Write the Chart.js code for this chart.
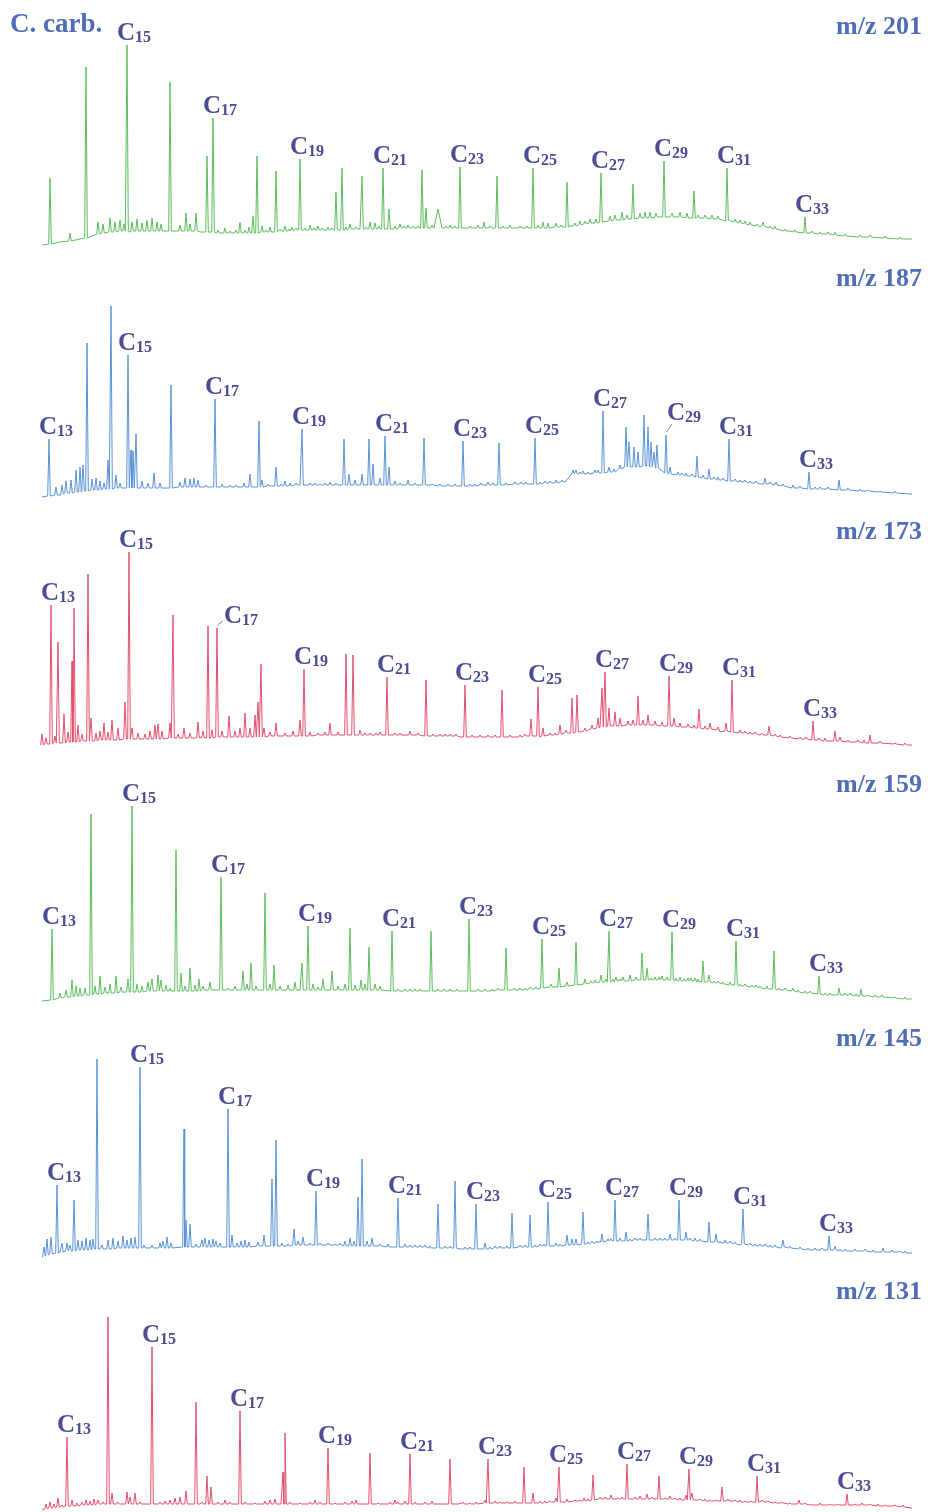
<!DOCTYPE html>
<html>
<head>
<meta charset="utf-8">
<script src="https://cdn.jsdelivr.net/npm/chart.js@4.4.1/dist/chart.umd.min.js"></script>
<style>
  html, body { margin: 0; padding: 0; background: #ffffff; }
  #stack { position: relative; width: 928px; height: 1512px; overflow: hidden; }
  #stack canvas { position: absolute; left: 0; }
</style>
</head>
<body>
<div id="stack"></div>
<script>
// ---- Sample and ion traces ----
const sampleName = 'C. carb.';
const ionTitles = ['m/z 201', 'm/z 187', 'm/z 173', 'm/z 159', 'm/z 145', 'm/z 131'];

// Baseline levels: [retention, intensity]
// Peaks: [retention, foot level, apex intensity, (optional half width)]
// Minor peaks: small baseline features, same layout as peaks
// Labels: [carbon number of n-alkyl homologue, retention of its peak]

const mz201Base = [[42,7],[60,10],[80,13],[95,17],[130,20],[170,21],[200,20],[230,19],[300,22],[360,23],[400,24],[460,24],[530,24],[570,26],[600,31],[640,34],[670,35],[700,34],[725,31],[760,25],[790,21],[830,18],[870,15],[912,13]];
const mz201Peaks = [[50,8,74],[70,11,19],[86,14,185],[98,18,30],[103,19,28],[110,20,34],[115,20,30],[120,21,32],[124,21,28],[127,21,207],[132,21,30],[137,21,33],[142,21,29],[147,21,32],[152,21,34],[157,21,30],[161,21,28],[170,21,170],[180,21,27],[186,21,39],[190,21,28],[196,21,39],[207,20,96],[213,20,134],[225,19,24],[240,19,30],[249,19,25],[253,19,36],[257,19,96],[262,20,26],[270,20,25],[276,20,81],[285,21,26],[292,21,25],[300,22,93],[310,22,27],[318,22,26],[328,22,25],[336,22,60],[342,22,84],[350,23,28],[362,23,76],[370,23,30],[375,23,29],[383,23,84],[389,23,43],[400,24,28],[408,24,27],[422,24,82],[426,24,44],[438,24,43,4],[450,24,27],[460,24,85],[484,24,30],[497,24,76],[510,24,27],[533,24,84],[543,24,30],[548,24,29],[556,25,29],[567,25,70],[580,27,31],[590,29,33],[601,30,79],[610,31,36],[615,32,37],[622,32,40],[633,33,68],[640,34,39],[645,34,40],[650,34,40],[656,35,39],[664,35,91],[672,35,39],[680,35,40],[687,34,39],[694,34,61],[705,34,37],[712,33,37],[718,33,36],[727,32,84],[740,29,32],[750,27,30],[763,26,30],[775,23,26],[805,19,35],[820,18,20],[835,17,20],[860,15,17]];
const mz201Minor = [[218,19,22],[230,19,21],[236,19,22],[245,19,22],[266,20,22],[280,21,23],[289,21,23],[296,22,24],[305,22,24],[314,22,24],[322,22,24],[332,22,24],[346,22,25],[356,23,25],[366,23,25],[379,23,26],[395,23,26],[404,24,26],[413,24,26],[418,24,26],[432,24,27],[446,24,26],[455,24,26],[470,24,26],[478,24,27],[490,24,26],[503,24,26],[520,24,26],[527,24,26],[538,24,27],[561,25,27],[575,26,29],[585,28,31],[596,29,33],[627,33,37],[698,34,37],[735,30,33],[745,28,31],[757,26,28],[770,24,26],[785,21,23],[795,20,22],[812,19,21],[828,18,20],[845,16,18],[870,15,17],[885,14,16],[900,13,15]];
const mz201Labels = [[15,127],[17,213],[19,300],[21,383],[23,460],[25,533],[27,601],[29,664],[31,727],[33,805]];

const mz187Base = [[42,8],[60,10],[80,13],[100,15],[150,17],[200,18],[300,20],[400,20],[460,19],[530,21],[565,23],[572,32],[590,31],[620,35],[650,36],[680,30],[720,25],[760,21],[800,16],[850,15],[880,13],[912,11]];
const mz187Peaks = [[49,9,66],[56,10,18],[62,11,20],[66,12,24],[71,12,25],[76,13,35],[80,13,38],[83,14,40],[87,14,162],[92,15,26],[96,15,27],[100,15,24],[104,16,22],[108,16,45],[111,16,199],[116,17,30],[120,17,22],[128,17,150],[131,17,55],[133,17,54],[136,17,71],[142,17,24],[148,17,22],[154,17,32],[160,17,22],[171,17,120],[180,18,23],[185,18,27],[190,18,26],[194,18,27],[198,18,25],[215,18,106],[230,18,20],[244,18,22],[250,18,31],[259,18,84],[262,18,25],[276,19,38],[285,19,24],[290,19,22],[302,20,76],[310,20,22],[325,20,22],[330,20,23],[344,20,66],[349,20,31],[355,20,25],[362,20,31],[369,20,66],[373,20,41],[380,20,27],[385,20,69],[389,20,38],[395,20,24],[408,20,25],[424,20,67],[440,19,21],[463,19,64],[475,19,21],[488,20,23],[499,20,62],[515,21,23],[521,21,23],[535,21,67],[545,22,24],[556,22,25],[573,31,35],[576,31,35],[580,31,33],[588,31,33],[595,32,35],[603,32,94],[609,33,38],[614,33,36],[620,36,40],[626,38,78],[629,38,63],[634,38,58],[638,38,53],[644,39,90],[648,39,78],[651,38,63],[654,38,53],[657,37,60],[666,32,70],[670,31,38],[678,30,33],[686,29,32],[697,28,49],[709,26,36],[718,25,28],[729,24,66],[740,23,25],[750,22,24],[765,21,27],[776,20,23],[793,17,20],[809,16,33],[820,16,18],[839,15,25],[860,14,16]];
const mz187Minor = [[206,18,20],[222,18,21],[236,18,20],[268,19,21],[281,19,21],[296,20,22],[315,20,22],[320,20,21],[336,20,22],[400,20,22],[415,20,22],[432,20,21],[448,19,21],[455,19,21],[470,19,21],[481,20,22],[493,20,22],[506,20,22],[526,21,23],[540,21,23],[550,22,24],[562,23,25],[583,31,34],[598,32,35],[682,30,32],[692,29,31],[703,27,30],[714,26,28],[723,25,27],[735,24,26],[745,23,25],[756,22,24],[770,21,23],[783,19,21],[800,17,19],[815,16,18],[828,16,18],[848,15,17],[868,14,15],[880,13,14],[895,12,14]];
const mz187Labels = [[13,49],[15,128],[17,215],[19,302],[21,385],[23,463],[25,535],[27,603],[29,666],[31,729],[33,809]];

const mz173Base = [[42,13],[50,14],[60,15],[100,18],[200,21],[300,23],[400,23],[460,21],[540,21],[580,26],[600,31],[640,33],[680,31],[720,26],[760,23],[800,18],[850,16],[912,13]];
const mz173Peaks = [[42,13,24],[46,14,20],[51,14,153],[55,15,22],[58,15,116],[64,15,44],[68,16,26],[72,16,97],[74,16,150],[78,16,33],[82,17,24],[88,17,184],[91,17,40],[96,17,25],[100,18,27],[104,18,35],[108,18,26],[112,18,38],[118,18,30],[125,19,56],[129,19,206],[132,19,30],[138,19,25],[145,19,24],[150,19,27],[155,19,33],[158,19,34],[162,19,27],[170,20,35],[173,20,143],[178,20,24],[184,20,30],[190,20,25],[198,20,36],[203,20,27],[208,20,132],[212,20,28],[217,21,130],[222,21,27],[229,21,42],[235,21,27],[240,21,30],[245,21,45],[250,21,30],[255,21,43],[258,21,56],[261,21,94],[264,21,30],[270,22,26],[276,22,35],[285,22,25],[293,22,27],[300,22,38],[304,22,89],[310,22,26],[318,23,25],[325,23,26],[330,23,35],[338,23,26],[346,23,104],[353,23,103],[360,23,28],[370,23,25],[387,23,81],[395,23,25],[410,23,27],[426,22,78],[440,22,24],[450,22,24],[465,21,73],[480,21,23],[502,21,68],[520,21,23],[531,22,39],[538,22,71],[543,22,30],[560,24,33],[566,25,28],[572,25,60],[577,26,63],[585,27,30],[592,29,33],[598,30,40],[602,31,70],[605,31,86],[609,32,50],[615,32,46],[620,32,40],[628,33,37],[633,33,38],[638,33,62],[643,33,38],[648,33,43],[655,33,37],[662,32,36],[669,32,82],[674,32,40],[680,31,35],[688,31,34],[699,30,49],[710,29,35],[718,28,31],[726,27,35],[732,26,78],[745,25,27],[755,24,26],[769,23,32],[780,21,23],[800,19,21],[813,18,37],[825,17,20],[835,17,27],[840,17,21],[870,15,23],[880,15,17]];
const mz173Minor = [[365,23,25],[376,23,25],[380,23,26],[400,23,25],[418,23,25],[433,22,24],[445,22,24],[456,22,24],[472,21,23],[488,21,23],[495,21,23],[510,21,23],[525,22,24],[550,23,25],[555,23,25],[694,30,33],[705,29,32],[740,25,28],[750,24,26],[762,23,25],[775,22,24],[790,20,22],[806,19,21],[819,18,20],[848,16,18],[858,16,18],[864,15,18],[895,14,15],[905,13,15]];
const mz173Labels = [[13,51],[15,129],[17,217],[19,304],[21,387],[23,465],[25,538],[27,605],[29,669],[31,732],[33,813]];

const mz159Base = [[42,11],[60,14],[100,19],[150,21],[200,22],[300,22],[400,21],[460,21],[530,22],[560,27],[600,31],[650,32],[700,31],[740,26],[780,22],[820,17],[860,16],[912,13]];
const mz159Peaks = [[52,12,83],[60,14,19],[66,15,22],[72,15,32],[76,16,26],[80,16,24],[85,17,24],[91,17,198],[95,18,26],[100,18,36],[105,19,25],[110,19,28],[116,19,36],[121,20,25],[128,20,33],[132,20,206],[137,20,28],[142,20,26],[148,21,30],[152,21,33],[158,21,37],[161,21,32],[166,21,27],[170,21,24],[176,21,162],[181,21,39],[185,21,26],[190,21,44],[195,21,27],[199,21,33],[203,22,26],[210,22,30],[221,22,135],[228,22,24],[235,22,26],[243,22,41],[247,22,28],[251,22,49],[256,22,26],[265,22,119],[270,22,28],[274,22,47],[280,22,26],[288,22,27],[295,22,30],[302,22,49],[308,22,86],[313,22,28],[318,22,25],[323,22,33],[332,22,41],[338,22,26],[345,22,28],[350,22,84],[355,22,27],[361,22,32],[365,22,28],[369,22,65],[375,22,28],[380,22,26],[392,21,81],[405,21,23],[415,21,23],[431,21,81],[450,21,23],[469,21,93],[485,21,23],[506,22,64],[520,22,24],[530,23,25],[542,24,73],[551,25,28],[559,25,44],[567,26,30],[576,27,70],[585,28,33],[595,29,32],[601,30,37],[609,30,81],[616,31,35],[623,31,35],[630,31,37],[636,32,35],[642,32,59],[647,32,44],[655,32,35],[662,32,36],[667,32,35],[672,32,80],[680,31,35],[688,31,34],[695,31,34],[703,30,51],[709,30,37],[718,29,31],[730,27,30],[736,27,71],[745,26,28],[760,24,26],[767,23,26],[774,23,61],[785,22,24],[793,21,24],[805,19,21],[819,18,36],[830,17,19],[839,17,24],[850,17,19],[861,16,23],[875,15,17]];
const mz159Minor = [[398,21,23],[410,21,23],[420,21,23],[438,21,23],[444,21,23],[457,21,23],[478,21,23],[492,21,23],[498,22,24],[514,22,24],[525,22,24],[536,23,25],[591,29,31],[606,30,33],[613,30,33],[620,31,33],[651,32,34],[659,32,35],[676,31,34],[684,31,33],[691,31,34],[698,30,33],[714,29,31],[723,28,30],[740,26,28],[752,25,27],[756,25,27],[779,22,24],[798,20,22],[810,19,21],[825,17,19],[845,17,19],[856,16,18],[868,16,17],[882,15,17],[895,14,15],[905,13,15]];
const mz159Labels = [[13,52],[15,132],[17,221],[19,308],[21,392],[23,469],[25,542],[27,609],[29,672],[31,736],[33,819]];

const mz145Base = [[42,8],[60,13],[100,16],[200,18],[300,20],[400,18],[460,16],[520,18],[560,20],[600,24],[650,25],[700,24],[740,20],[780,17],[820,15],[860,14],[912,12]];
const mz145Peaks = [[44,9,18],[47,10,26],[51,11,28],[57,12,80],[62,13,22],[67,14,22],[70,14,20],[74,14,65],[78,15,25],[82,15,24],[86,15,27],[90,15,25],[93,16,26],[97,16,206],[102,16,20],[108,16,25],[113,16,27],[118,17,24],[123,17,29],[127,17,25],[131,17,27],[135,17,28],[140,17,198],[144,17,20],[152,17,20],[160,17,22],[163,17,24],[167,17,28],[171,17,22],[184,18,136],[186,18,45],[190,18,41],[196,18,21],[202,18,25],[205,18,27],[209,18,25],[213,18,26],[216,18,24],[220,18,22],[228,18,156],[232,18,30],[237,18,22],[241,18,24],[245,18,25],[249,18,23],[258,19,23],[264,19,30],[272,19,86],[276,19,125],[282,19,22],[288,19,21],[294,20,36],[298,20,24],[303,20,28],[310,20,22],[316,20,74],[320,20,22],[328,20,22],[335,20,21],[340,20,22],[345,19,24],[350,19,27],[354,19,24],[358,19,68],[362,19,106],[367,19,24],[372,19,27],[380,19,21],[388,18,21],[398,18,67],[405,18,21],[415,18,20],[425,18,20],[438,17,61],[445,17,19],[455,17,84],[465,16,18],[476,16,61],[485,16,22],[495,17,19],[512,17,52],[520,18,20],[530,18,50],[540,19,21],[548,19,63],[556,19,22],[567,20,30],[572,20,26],[576,20,26],[583,21,53],[592,22,24],[602,23,31],[608,24,26],[615,24,65],[620,24,27],[626,24,33],[635,25,27],[648,25,51],[660,25,27],[670,25,31],[679,25,65],[686,25,33],[695,24,27],[709,23,43],[716,23,31],[725,22,25],[735,21,23],[743,21,56],[755,19,21],[765,19,21],[775,18,20],[783,18,25],[800,16,18],[815,15,17],[829,15,29],[835,15,19],[845,14,16],[865,14,16],[883,13,17],[900,13,14]];
const mz145Minor = [[410,18,20],[420,18,20],[430,17,19],[450,17,19],[470,16,18],[490,16,18],[500,17,19],[507,17,19],[525,18,20],[535,18,20],[544,19,21],[560,19,21],[588,21,23],[597,22,24],[611,24,26],[630,24,26],[640,25,27],[655,25,27],[665,25,27],[675,25,27],[690,25,27],[700,24,26],[720,22,24],[730,22,24],[750,20,22],[760,19,21],[770,18,20],[790,17,19],[808,15,17],[822,15,17],[840,14,16],[855,14,16],[873,13,15],[892,13,15],[905,12,14]];
const mz145Labels = [[13,57],[15,140],[17,228],[19,316],[21,398],[23,476],[25,548],[27,615],[29,679],[31,743],[33,829]];

const mz131Base = [[42,2],[60,5],[100,8],[200,8],[300,8],[400,8],[460,8],[520,9],[560,10],[600,13],[650,13],[700,12],[760,10],[820,7],[870,7],[912,4]];
const mz131Peaks = [[46,3,8],[50,4,10],[54,4,8],[58,5,14],[62,5,7],[67,6,75],[72,6,12],[77,6,9],[82,7,10],[86,7,12],[90,7,11],[94,7,13],[98,8,12],[103,8,10],[108,8,195],[112,8,19],[118,8,10],[127,8,20],[130,8,15],[135,8,19],[140,8,10],[152,8,165],[160,8,10],[165,8,11],[170,8,12],[175,8,14],[180,8,15],[186,8,21],[196,8,110],[202,8,10],[207,8,36],[211,8,25],[218,8,10],[225,8,12],[230,8,10],[240,8,101],[245,8,10],[255,8,9],[265,8,11],[270,8,12],[275,8,13],[283,8,40,2],[285,8,79],[290,8,10],[300,8,9],[310,8,10],[315,8,12],[320,8,10],[328,8,64],[335,8,9],[345,8,10],[352,8,11],[356,8,12],[370,8,59],[378,8,9],[390,8,10],[395,8,12],[398,8,10],[405,8,11],[410,8,58],[415,8,10],[425,8,10],[432,8,11],[450,8,53],[460,8,9],[470,8,9],[485,9,12],[488,9,53],[500,9,10],[524,9,45],[533,9,19],[545,9,11],[556,10,14],[559,10,45],[567,10,13],[575,11,12],[584,11,14],[593,12,37],[600,13,15],[605,13,15],[611,13,17],[618,13,14],[627,13,48],[635,13,15],[640,13,16],[647,13,18],[659,13,36],[665,13,14],[670,13,16],[680,12,14],[686,12,17],[689,12,43],[692,12,19],[700,12,13],[710,11,12],[722,11,25],[735,11,12],[745,10,11],[757,10,36],[762,10,12],[775,9,10],[790,8,9],[799,8,12],[810,7,8],[830,7,8],[847,7,18],[855,7,8],[862,7,9],[885,6,7],[903,5,7]];
const mz131Minor = [[463,8,10],[476,8,10],[495,9,11],[507,9,10],[515,9,11],[540,9,11],[550,10,11],[580,11,12],[588,11,13],[622,13,15],[652,13,15],[675,13,14],[705,11,13],[716,11,12],[728,11,13],[740,10,12],[751,10,11],[768,10,11],[782,9,10],[805,8,9],[820,7,9],[838,7,8],[870,7,8],[878,6,8],[895,6,7]];
const mz131Labels = [[13,67],[15,152],[17,240],[19,328],[21,410],[23,488],[25,559],[27,627],[29,689],[31,757],[33,847]];

const traceBases  = [mz201Base, mz187Base, mz173Base, mz159Base, mz145Base, mz131Base];
const tracePeaks  = [mz201Peaks, mz187Peaks, mz173Peaks, mz159Peaks, mz145Peaks, mz131Peaks];
const traceMinor  = [mz201Minor, mz187Minor, mz173Minor, mz159Minor, mz145Minor, mz131Minor];
const traceLabels = [mz201Labels, mz187Labels, mz173Labels, mz159Labels, mz145Labels, mz131Labels];

// ---- Layout and style ----
const panelTops    = [0, 252, 505, 758, 1012, 1265];
const panelHeights = [252, 253, 253, 254, 253, 247];
const traceColors  = ['#5dbd5d', '#5a93d6', '#e2506e', '#5dbd5d', '#5a93d6', '#e2506e'];
const titleColor = '#4f6db6';
const labelColor = '#4a4d94';
const serif = '"Liberation Serif", "Times New Roman", serif';
const peakHalfWidth = 1.3;
// labels that sit off their apex, with a short leader line (pixel offsets from the apex)
const labelNudges = {
  'm/z 187': { 29: { dx: 1, dy: -15, lx: 6, ly: -11 } },
  'm/z 173': { 17: { dx: 7, dy: -5, lx: 6, ly: -7 } }
};

function traceSeries(base, peaks) {
  const pts = [];
  peaks.forEach(p => {
    const h = p[3] || peakHalfWidth;
    pts.push({ x: p[0] - h, y: p[1] }, { x: p[0], y: p[2] }, { x: p[0] + h, y: p[1] });
  });
  base.forEach(([rt, level]) => {
    const covered = peaks.some(p => Math.abs(p[0] - rt) < (p[3] || peakHalfWidth) + 0.5);
    if (!covered) pts.push({ x: rt, y: level });
  });
  pts.sort((a, b) => a.x - b.x);
  return pts;
}

const annotate = {
  id: 'annotate',
  afterDatasetsDraw(chart, args, opts) {
    const ctx = chart.ctx;
    const xs = chart.scales.x, ys = chart.scales.y;
    ctx.save();
    ctx.textBaseline = 'alphabetic';
    ctx.textAlign = 'left';
    const nudges = labelNudges[opts.title] || {};
    opts.labels.forEach(([n, rt]) => {
      const pk = opts.peaks.filter(p => p[0] === rt).sort((a, b) => b[2] - a[2])[0];
      if (!pk) return;
      const ax = xs.getPixelForValue(rt);
      const ay = ys.getPixelForValue(pk[2]);
      let lx = ax - 10, ly = ay - 5;
      const nd = nudges[n];
      if (nd) {
        lx = ax + nd.dx; ly = ay + nd.dy;
        ctx.strokeStyle = '#6a6a8a';
        ctx.lineWidth = 0.8;
        ctx.beginPath();
        ctx.moveTo(ax + 0.5, ay - 3);
        ctx.lineTo(ax + nd.lx, ay + nd.ly);
        ctx.stroke();
      }
      ctx.fillStyle = labelColor;
      ctx.font = 'bold 25px ' + serif;
      ctx.fillText('C', lx, ly);
      const cw = ctx.measureText('C').width;
      ctx.font = 'bold 16px ' + serif;
      ctx.fillText(String(n), lx + cw, ly + 2);
    });
    ctx.fillStyle = titleColor;
    ctx.font = 'bold 26px ' + serif;
    ctx.textAlign = 'right';
    ctx.fillText(opts.title, 922, 34);
    if (opts.sample) {
      ctx.textAlign = 'left';
      ctx.font = 'bold 27px ' + serif;
      ctx.fillText(opts.sample, 10, 32);
    }
    ctx.restore();
  }
};

const stack = document.getElementById('stack');
ionTitles.forEach((title, i) => {
  const cv = document.createElement('canvas');
  cv.width = 928;
  cv.height = panelHeights[i];
  cv.style.top = panelTops[i] + 'px';
  cv.style.width = '928px';
  cv.style.height = panelHeights[i] + 'px';
  stack.appendChild(cv);
  const allPeaks = tracePeaks[i].concat(traceMinor[i]);
  new Chart(cv, {
    type: 'line',
    data: {
      datasets: [{
        label: title,
        data: traceSeries(traceBases[i], allPeaks),
        borderColor: traceColors[i],
        borderWidth: 1,
        pointRadius: 0,
        tension: 0,
        fill: false
      }]
    },
    options: {
      responsive: false,
      animation: false,
      devicePixelRatio: 1,
      layout: { padding: 0 },
      scales: {
        x: { type: 'linear', min: 0, max: 928, display: false },
        y: { type: 'linear', min: 0, max: panelHeights[i], display: false }
      },
      plugins: {
        legend: { display: false },
        tooltip: { enabled: false },
        annotate: {
          title: title,
          sample: i === 0 ? sampleName : null,
          peaks: tracePeaks[i],
          labels: traceLabels[i]
        }
      }
    },
    plugins: [annotate]
  });
});
</script>
</body>
</html>
